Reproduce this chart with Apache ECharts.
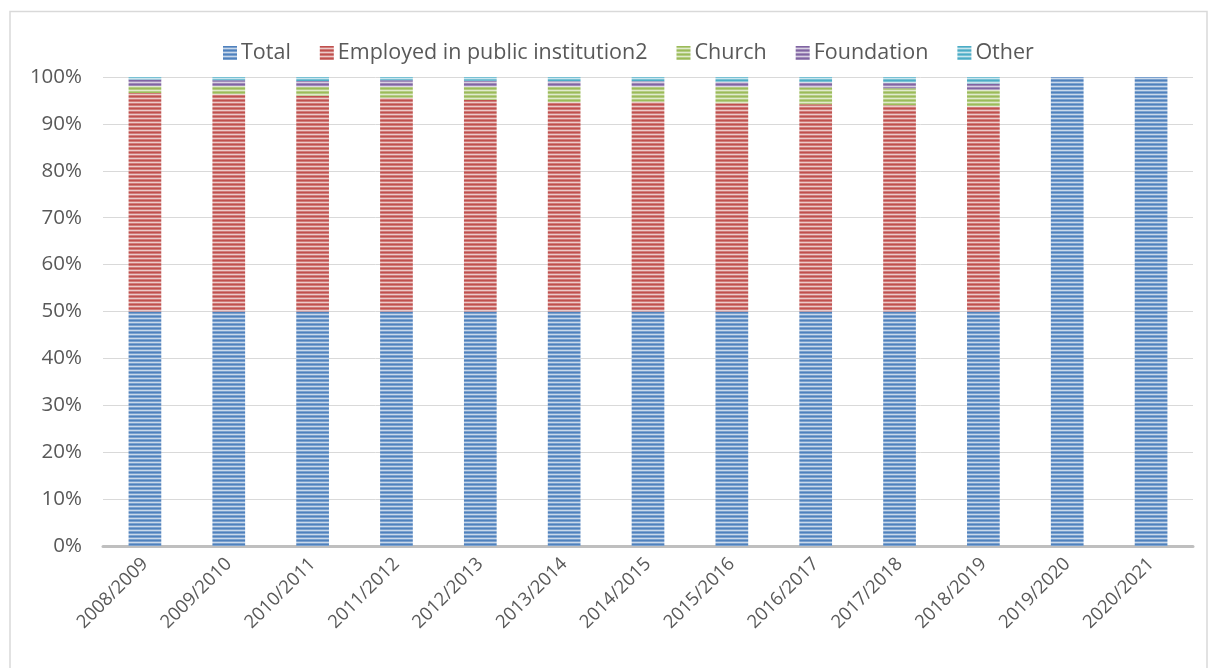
<!DOCTYPE html>
<html>
<head>
<meta charset="utf-8">
<script src="https://cdn.jsdelivr.net/npm/echarts@6/dist/echarts.min.js"></script>
<style>
html,body{margin:0;padding:0;background:#fff;}
#chart{width:1217px;height:668px;}
</style>
</head>
<body>
<div id="chart"></div>
<script>
const categories = ['2008/2009','2009/2010','2010/2011','2011/2012','2012/2013','2013/2014','2014/2015','2015/2016','2016/2017','2017/2018','2018/2019','2019/2020','2020/2021'];
const seriesNames = ['Total','Employed in public institution2','Church','Foundation','Other'];
// shares (%)
const total      = [50, 50, 50, 50, 50, 50, 50, 50, 50, 50, 50, 100, 100];
const employed   = [46.6, 46.3, 46.0, 45.6, 45.1, 44.6, 44.7, 44.4, 44.2, 44.0, 43.7, 0, 0];
const church     = [1.5, 1.8, 1.9, 2.3, 2.8, 3.4, 3.2, 3.5, 3.6, 3.6, 3.6, 0, 0];
const foundation = [1.35, 1.2, 1.25, 1.4, 1.3, 1.1, 1.2, 1.1, 1.1, 1.2, 1.3, 0, 0];
const other      = [0.55, 0.7, 0.85, 0.7, 0.8, 0.9, 0.9, 1.0, 1.1, 1.2, 1.4, 0, 0];
const yTicks = [0,10,20,30,40,50,60,70,80,90,100];

const colors = ['#4F81BD','#C0504D','#9BBB59','#8064A2','#4BACC6'];
function mix(hex, w){
  const r=parseInt(hex.slice(1,3),16),g=parseInt(hex.slice(3,5),16),b=parseInt(hex.slice(5,7),16);
  const f=c=>Math.round(c+(255-c)*w);
  return 'rgb('+f(r)+','+f(g)+','+f(b)+')';
}
function stripe(hex){
  const c=document.createElement('canvas');
  c.width=4;c.height=4;
  const x=c.getContext('2d');
  const rows=[0,0.25,0.7,0.25];
  rows.forEach((w,i)=>{x.fillStyle=mix(hex,w);x.fillRect(0,i,4,1);});
  return {image:c,repeat:'repeat'};
}
const raw=[total,employed,church,foundation,other];
// normalise each category to 100%
const sums=categories.map((_,i)=>raw.reduce((s,a)=>s+a[i],0));
const norm=raw.map(a=>a.map((v,i)=>v/sums[i]*100));

const chart=echarts.init(document.getElementById('chart'));
const font='Open Sans';
chart.setOption({
  animation:false,
  backgroundColor:'#fff',
  graphic:[{type:'rect',shape:{x:10,y:11.5,width:1197,height:670},style:{fill:'none',stroke:'#d9d9d9',lineWidth:1.5},silent:true}],
  legend:{
    top:37,left:218,itemWidth:14,itemHeight:14,itemGap:29,icon:'rect',
    textStyle:{fontFamily:font,fontSize:21.5,color:'#595959',padding:[0,0,0,-1]},
    data:seriesNames.map((n,i)=>({name:n,itemStyle:{color:stripe(colors[i])}}))
  },
  grid:{left:103,right:24,top:77,bottom:122,containLabel:false},
  xAxis:{
    type:'category',data:categories,
    axisLine:{lineStyle:{color:'#bfbfbf',width:3}},
    axisTick:{show:false},
    axisLabel:{rotate:45,margin:15,fontFamily:font,fontSize:18.5,color:'#595959',interval:0}
  },
  yAxis:{
    type:'value',min:0,max:100,interval:10,
    axisLine:{show:false},axisTick:{show:false},
    splitLine:{lineStyle:{color:'#d9d9d9',width:1}},
    axisLabel:{formatter:v=>v+'%',margin:21,fontFamily:font,fontSize:20.5,color:'#595959'}
  },
  series:seriesNames.map((n,i)=>({
    name:n,type:'bar',stack:'s',barWidth:'39%',
    itemStyle:{color:stripe(colors[i])},
    data:norm[i]
  }))
});
</script>
</body>
</html>
